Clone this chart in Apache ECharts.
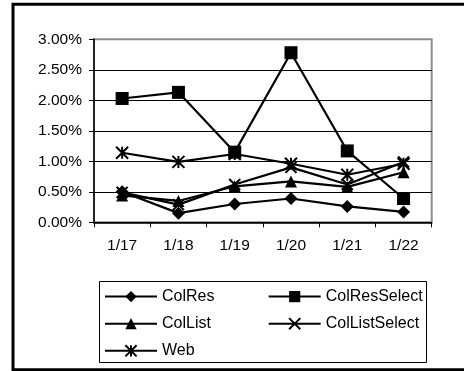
<!DOCTYPE html>
<html>
<head>
<meta charset="utf-8">
<script src="https://cdn.jsdelivr.net/npm/echarts@6/dist/echarts.min.js"></script>
<style>
  html, body { margin: 0; padding: 0; background: #fff; }
  #chart { width: 464px; height: 371px; }
</style>
</head>
<body>
<div id="chart"></div>
<script>
// Daily rates, in percent
var categories = ['1/17', '1/18', '1/19', '1/20', '1/21', '1/22'];
var colRes = [0.50, 0.15, 0.30, 0.39, 0.26, 0.17];
var colResSelect = [2.03, 2.13, 1.15, 2.78, 1.17, 0.39];
var colList = [0.44, 0.35, 0.59, 0.67, 0.58, 0.82];
var colListSelect = [0.49, 0.29, 0.62, 0.90, 0.62, 0.99];
var web = [1.14, 0.99, 1.12, 0.96, 0.78, 0.96];
var yTicks = { min: 0, max: 3, step: 0.5 };

var FONT = '"Liberation Sans", Arial, sans-serif';
var crossPath = 'path://M0,0 L10,10 M10,0 L0,10';
var starPath = 'path://M5,0 L5,10 M0,0 L10,10 M10,0 L0,10';

function lineSeries(name, data, symbol, size, stroked) {
  return {
    name: name,
    type: 'line',
    data: data,
    symbol: symbol,
    symbolSize: size,
    showAllSymbol: true,
    animation: false,
    lineStyle: { color: '#000', width: 2.2 },
    itemStyle: stroked
      ? { color: '#000', borderColor: '#000', borderWidth: 2 }
      : { color: '#000', borderWidth: 0 },
    emphasis: { disabled: true }
  };
}

var legendCommon = {
  orient: 'vertical', top: 288.6, padding: 0,
  itemWidth: 52, itemHeight: 14, itemGap: 11.1,
  textStyle: { color: '#000', fontSize: 16, fontFamily: FONT },
  selectedMode: false
};

var chart = echarts.init(document.getElementById('chart'), null, { renderer: 'canvas' });
chart.setOption({
  backgroundColor: '#fff',
  animation: false,
  textStyle: { fontFamily: FONT },
  grid: {
    left: 94, top: 39.3, right: 32.3, bottom: 148.7,
    show: true, borderColor: '#8c8c8c', borderWidth: 2, backgroundColor: '#fff'
  },
  xAxis: {
    type: 'category',
    data: categories,
    boundaryGap: true,
    axisLine: { lineStyle: { color: '#000', width: 1.5 } },
    axisTick: { show: true, inside: false, length: 5, lineStyle: { color: '#000', width: 1 } },
    axisLabel: { color: '#000', fontSize: 15.5, fontFamily: FONT, margin: 15 },
    splitLine: { show: false }
  },
  yAxis: {
    type: 'value',
    min: yTicks.min,
    max: yTicks.max,
    interval: yTicks.step,
    axisLine: { show: true, lineStyle: { color: '#000', width: 1.5 } },
    axisTick: { show: true, inside: false, length: 5, lineStyle: { color: '#000', width: 1 } },
    axisLabel: {
      color: '#000', fontSize: 15.5, fontFamily: FONT, margin: 12,
      formatter: function (v) { return v.toFixed(2) + '%'; }
    },
    splitLine: { show: true, showMaxLine: false, lineStyle: { color: '#000', width: 1 } }
  },
  legend: [
    Object.assign({ data: ['ColRes', 'ColList', 'Web'], left: 104 }, legendCommon),
    Object.assign({ data: ['ColResSelect', 'ColListSelect'], left: 267.7 }, legendCommon)
  ],
  graphic: [
    {
      type: 'rect', silent: true, z: -1,
      shape: { x: 13, y: 4.3, width: 470, height: 365.4 },
      style: { fill: 'none', stroke: '#000', lineWidth: 3 }
    },
    {
      type: 'rect', silent: true,
      shape: { x: 99.5, y: 281.5, width: 327, height: 81 },
      style: { fill: 'none', stroke: '#000', lineWidth: 1 }
    }
  ],
  series: [
    lineSeries('ColRes', colRes, 'diamond', 13, false),
    lineSeries('ColResSelect', colResSelect, 'rect', 13, false),
    lineSeries('ColList', colList, 'triangle', 12, false),
    lineSeries('ColListSelect', colListSelect, crossPath, 11, true),
    lineSeries('Web', web, starPath, 12, true)
  ]
});
</script>
</body>
</html>
